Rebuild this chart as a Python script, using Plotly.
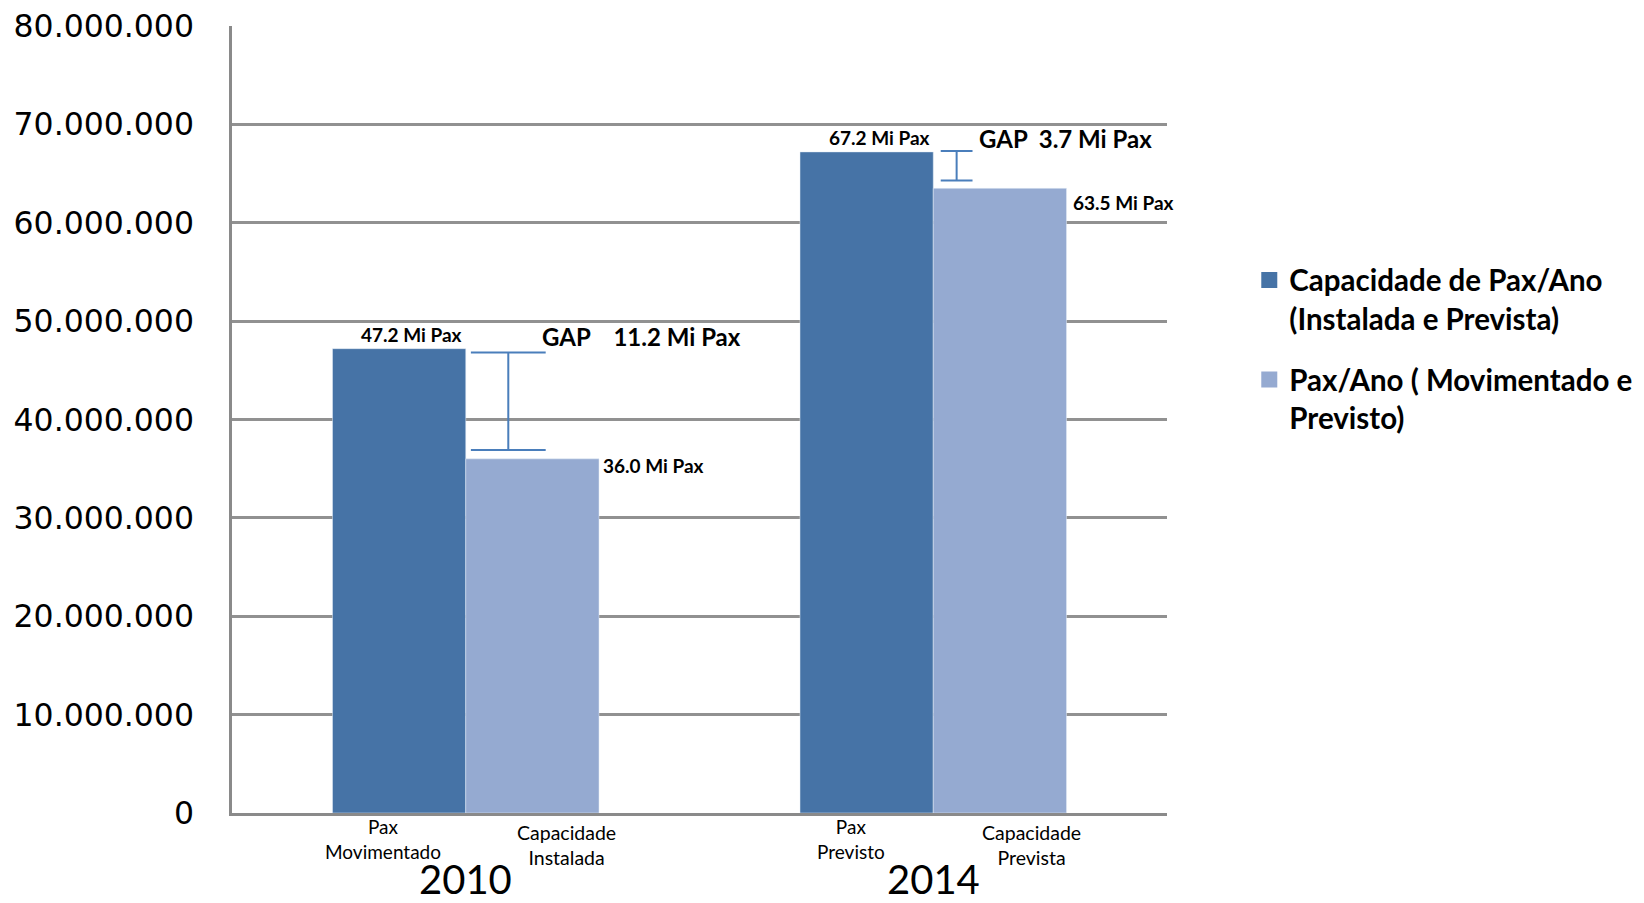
import plotly.graph_objects as go

years = ["2010", "2014"]
cap_series_name = "<b>Capacidade de Pax/Ano<br>(Instalada e Prevista)</b>"
pax_series_name = "<b>Pax/Ano ( Movimentado e<br>Previsto)</b>"
dark_values = [47.2e6, 67.2e6]
light_values = [36.0e6, 63.5e6]
dark_labels = ["47.2 Mi Pax", "67.2 Mi Pax"]
light_labels = ["36.0 Mi Pax", "63.5 Mi Pax"]
dark_sub = ["Pax<br>Movimentado", "Pax<br>Previsto"]
light_sub = ["Capacidade<br>Instalada", "Capacidade<br>Prevista"]
gap_texts = ["GAP\u00a0\u00a0\u00a0 11.2 Mi Pax", "GAP\u00a0 3.7 Mi Pax"]
gap_top = [46.8e6, 67.3e6]
gap_bottom = [36.9e6, 64.3e6]
y_ticks = [0, 10e6, 20e6, 30e6, 40e6, 50e6, 60e6, 70e6, 80e6]

DARK = "#4673a6"
LIGHT = "#95aad1"
GAPC = "#4a7ebb"
FONT = "Lato"
xpos = list(range(len(years)))
bw = 0.285

fig = go.Figure()
fig.add_trace(go.Bar(x=xpos, y=dark_values, name=cap_series_name, marker_color=DARK,
                     width=bw, offset=-bw, hoverinfo="skip", showlegend=False))
fig.add_trace(go.Bar(x=xpos, y=light_values, name=pax_series_name, marker_color=LIGHT,
                     width=bw, offset=0, hoverinfo="skip", showlegend=False))
# legend entries with larger square swatches
fig.add_trace(go.Scatter(x=[None], y=[None], mode="markers", name=cap_series_name,
                         legendgroup="cap",
                         marker=dict(symbol="square", size=18, color=DARK)))
fig.add_trace(go.Scatter(x=[None], y=[None], mode="markers", name=pax_series_name,
                         legendgroup="pax",
                         marker=dict(symbol="square", size=18, color=LIGHT)))

ann = []
shapes = []
gap_dx = [0.091, 0.05]
cap_half = [0.08, 0.034]
gap_text_dx = [0.158, 0.094]
gap_text_dy = [48.4e6, 68.6e6]
light_sub_dx = [0.215, 0.21]
for i, xc in enumerate(xpos):
    ann.append(dict(x=xc - 0.115, y=dark_values[i], text="<b>" + dark_labels[i] + "</b>",
                    showarrow=False, xanchor="center", yanchor="bottom", yshift=1,
                    font=dict(family=FONT, size=19, color="#000")))
    ann.append(dict(x=xc + bw, y=light_values[i], text="<b>" + light_labels[i] + "</b>",
                    showarrow=False, xanchor="left", yanchor="middle", xshift=[2, 5][i],
                    yshift=[-7, -14][i], font=dict(family=FONT, size=19, color="#000")))
    ann.append(dict(x=xc - 0.177, y=0, text=dark_sub[i], showarrow=False, xanchor="center",
                    yanchor="top", yshift=0, font=dict(family=FONT, size=19, color="#000")))
    ann.append(dict(x=xc + light_sub_dx[i], y=0, text=light_sub[i], showarrow=False,
                    xanchor="center", yanchor="top", yshift=-6,
                    font=dict(family=FONT, size=19.5, color="#000")))
    ann.append(dict(x=xc, y=0, text=years[i], showarrow=False, xanchor="center",
                    yanchor="middle", yshift=-66, font=dict(family=FONT, size=40, color="#000")))
    ann.append(dict(x=xc + gap_text_dx[i], y=gap_text_dy[i], text="<b>" + gap_texts[i] + "</b>",
                    showarrow=False, xanchor="left", yanchor="middle",
                    font=dict(family=FONT, size=24, color="#000")))
    gx = xc + gap_dx[i]
    shapes.append(dict(type="line", x0=gx, x1=gx, y0=gap_bottom[i], y1=gap_top[i],
                       line=dict(color=GAPC, width=2)))
    for yv in (gap_bottom[i], gap_top[i]):
        shapes.append(dict(type="line", x0=gx - cap_half[i], x1=gx + cap_half[i], y0=yv, y1=yv,
                           line=dict(color=GAPC, width=2)))

fig.update_layout(
    width=1644, height=903,
    margin=dict(l=232, r=477, t=26, b=90, autoexpand=False),
    plot_bgcolor="white", paper_bgcolor="white",
    separators=",.",
    barmode="overlay",
    annotations=ann, shapes=shapes,
    showlegend=True,
    legend=dict(x=1.088, y=0.71, xanchor="left", yanchor="top", valign="top",
                font=dict(family=FONT, size=29.5, color="#000"),
                itemsizing="trace", tracegroupgap=20, bgcolor="rgba(0,0,0,0)",
                itemwidth=30),
    xaxis=dict(range=[-0.5, 1.5], tickvals=xpos, showticklabels=False, showgrid=False,
               showline=True, linecolor="#8a8a8a", linewidth=2.5, ticks="",
               zeroline=False, automargin=False),
    yaxis=dict(range=[0, 80e6], tickvals=y_ticks, tickformat=",d", showgrid=True,
               gridcolor="#919191", gridwidth=2.5, showline=True, linecolor="#8a8a8a",
               linewidth=2.5, zeroline=False, ticks="", automargin=False,
               tickfont=dict(family="DejaVu Sans", size=31.5, color="#000"),
               ticklabelstandoff=29),
)
# remove the default 8px page margin so the figure sits at the window origin
fig.write_html("out.html", config={"displayModeBar": False},
               post_script="document.body.style.margin='0';document.body.style.overflow='hidden';")
